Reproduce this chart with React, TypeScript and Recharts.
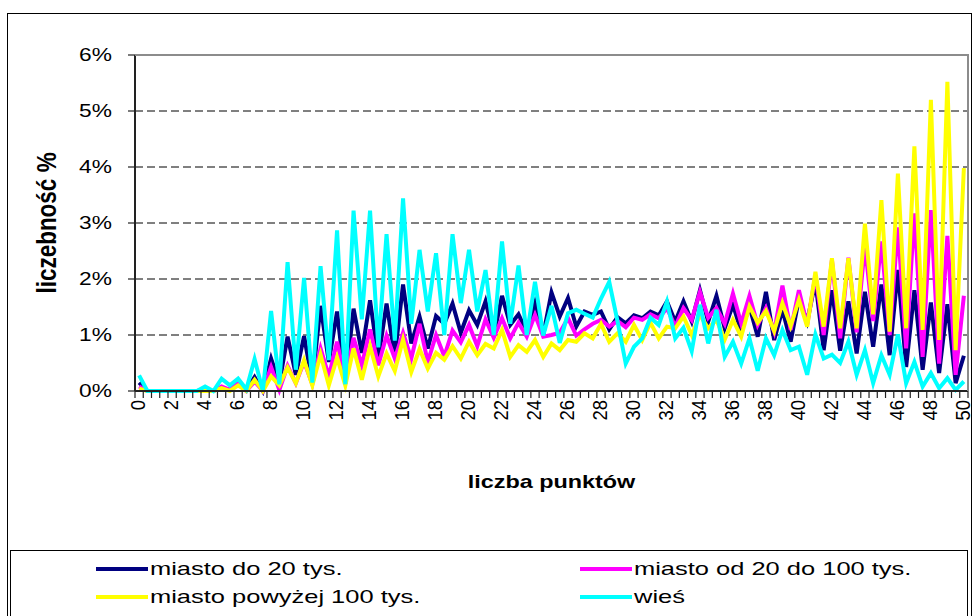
import React from 'react';
import { LineChart, Line, XAxis, YAxis, CartesianGrid, Legend, Label } from 'recharts';

// ---------- data ----------
const xCategories = [
  0, 0.5, 1, 1.5, 2, 2.5, 3, 3.5, 4, 4.5, 5, 5.5, 6, 6.5, 7, 7.5, 8, 8.5, 9, 9.5,
  10, 10.5, 11, 11.5, 12, 12.5, 13, 13.5, 14, 14.5, 15, 15.5, 16, 16.5, 17, 17.5, 18, 18.5, 19, 19.5,
  20, 20.5, 21, 21.5, 22, 22.5, 23, 23.5, 24, 24.5, 25, 25.5, 26, 26.5, 27, 27.5, 28, 28.5, 29, 29.5,
  30, 30.5, 31, 31.5, 32, 32.5, 33, 33.5, 34, 34.5, 35, 35.5, 36, 36.5, 37, 37.5, 38, 38.5, 39, 39.5,
  40, 40.5, 41, 41.5, 42, 42.5, 43, 43.5, 44, 44.5, 45, 45.5, 46, 46.5, 47, 47.5, 48, 48.5, 49, 49.5,
  50,
];

const xTickLabels = [0, 2, 4, 6, 8, 10, 12, 14, 16, 18, 20, 22, 24, 26, 28, 30, 32, 34, 36, 38, 40, 42, 44, 46, 48, 50];
const yTicks = [0, 1, 2, 3, 4, 5, 6];

const miastoDo20 = [
  0.15, 0, 0, 0, 0, 0, 0, 0, 0.02, 0,
  0.06, 0.02, 0.12, 0.02, 0.25, 0, 0.58, 0.14, 0.97, 0.29,
  0.98, 0.16, 1.52, 0.52, 1.42, 0.14, 1.47, 0.68, 1.62, 0.57,
  1.56, 0.62, 1.9, 0.85, 1.33, 0.76, 1.34, 1.2, 1.56, 1.04,
  1.44, 1.18, 1.6, 0.99, 1.7, 1.18, 1.37, 1.05, 1.57, 1.0,
  1.76, 1.33, 1.66, 1.15, 1.42, 1.36, 1.42, 1.1, 1.32, 1.21,
  1.35, 1.3, 1.42, 1.35, 1.6, 1.24, 1.6, 1.24, 1.8, 1.24,
  1.7, 1.12, 1.54, 1.06, 1.51, 0.97, 1.77, 0.91, 1.45, 0.88,
  1.65, 1.24, 1.95, 0.73, 1.8, 0.72, 1.6, 0.67, 1.77, 0.79,
  1.9, 0.64, 2.16, 0.43, 1.8, 0.38, 1.58, 0.32, 1.55, 0.14,
  0.63,
];

const miastoOd20Do100 = [
  0.08, 0, 0, 0, 0, 0, 0, 0, 0, 0,
  0.08, 0.02, 0.15, 0, 0.17, 0, 0.43, 0.02, 0.45, 0.14,
  0.52, 0.12, 0.76, 0.26, 0.88, 0.17, 0.95, 0.46, 1.1, 0.46,
  0.99, 0.58, 1.04, 0.58, 1.2, 0.52, 1.0, 0.62, 1.08, 0.87,
  1.18, 0.8, 1.28, 0.95, 1.3, 0.94, 1.22, 0.97, 1.36, 0.97,
  1.0, 1.04, 1.3, 0.99, 1.1, 1.2, 1.27, 1.15, 1.25, 1.14,
  1.31, 1.27, 1.37, 1.3, 1.48, 1.15, 1.48, 1.27, 1.77, 1.31,
  1.48, 1.2, 1.74, 1.21, 1.7, 1.18, 1.48, 1.06, 1.88, 1.09,
  1.8, 1.18, 2.07, 1.0, 2.34, 0.94, 2.38, 1.05, 2.6, 1.25,
  2.67, 1.0, 2.92, 0.76, 3.17, 0.61, 3.23, 0.49, 2.77, 0.29,
  1.7,
];

const miastoPowyzej100 = [
  0.04, 0, 0, 0, 0, 0, 0, 0, 0, 0,
  0.05, 0, 0.1, 0, 0.2, 0, 0.26, 0.1, 0.42, 0.14,
  0.55, 0.1, 0.65, 0.1, 0.6, 0.1, 0.76, 0.2, 0.8, 0.26,
  0.67, 0.36, 0.92, 0.34, 0.75, 0.4, 0.68, 0.56, 0.8, 0.58,
  0.88, 0.64, 0.84, 0.76, 1.09, 0.61, 0.82, 0.7, 0.91, 0.61,
  0.85, 0.73, 0.91, 0.88, 1.03, 0.94, 1.2, 0.88, 1.03, 0.88,
  1.18, 0.91, 1.22, 0.94, 1.15, 1.12, 1.33, 1.0, 1.36, 1.12,
  1.27, 0.92, 1.27, 0.97, 1.51, 1.22, 1.43, 1.07, 1.57, 1.16,
  1.63, 1.15, 2.13, 1.15, 2.37, 1.12, 2.37, 1.12, 2.99, 1.37,
  3.41, 1.06, 3.88, 1.12, 4.37, 1.09, 5.2, 0.91, 5.52, 0.73,
  3.98,
];

const wies = [
  0.28, 0, 0, 0, 0, 0, 0, 0, 0.08, 0,
  0.22, 0.1, 0.22, 0.03, 0.57, 0, 1.43, 0.12, 2.3, 0.38,
  2.02, 0.15, 2.23, 0.55, 2.87, 0.12, 3.22, 1.28, 3.22, 0.78,
  2.8, 0.9, 3.44, 1.2, 2.52, 1.42, 2.46, 1.0, 2.8, 1.57,
  2.52, 1.42, 2.16, 1.0, 2.67, 1.2, 2.24, 1.0, 1.95, 0.99,
  1.52, 0.86, 1.39, 1.45, 1.38, 1.31, 1.65, 1.95, 1.25, 0.49,
  0.79, 0.94, 1.31, 1.18, 1.6, 0.94, 1.13, 0.71, 1.54, 0.85,
  1.45, 0.61, 0.88, 0.49, 0.94, 0.36, 0.94, 0.64, 1.09, 0.73,
  0.79, 0.29, 1.01, 0.58, 0.65, 0.5, 0.88, 0.29, 0.73, 0.14,
  0.64, 0.29, 1.01, 0.14, 0.52, 0.08, 0.32, 0.05, 0.23, 0.02,
  0.17,
];

const seriesKeys = ['s1', 's2', 's3', 's4'];
const seriesNames = ['miasto do 20 tys.', 'miasto od 20 do 100 tys.', 'miasto powyżej 100 tys.', 'wieś'];
const seriesColors = ['#000080', '#FF00FF', '#FFFF00', '#00FFFF'];
const seriesValues = [miastoDo20, miastoOd20Do100, miastoPowyzej100, wies];

const data = xCategories.map((x, i) => {
  const row: Record<string, number | string> = { x: String(x) };
  seriesKeys.forEach((k, s) => {
    row[k] = seriesValues[s][i];
  });
  return row;
});

const labelSet = new Set(xTickLabels.map(String));

// ---------- styling ----------
const FONT = '"Liberation Sans", Arial, sans-serif';
const STRETCH = 1.3;

const YTick = (props: any) => {
  const { x, y, payload } = props;
  return (
    <text
      transform={`translate(${x},${y}) scale(${STRETCH},1)`}
      textAnchor="end"
      dominantBaseline="central"
      fontFamily={FONT}
      fontSize={17.5}
      fill="#000"
    >
      {`${payload.value}%`}
    </text>
  );
};

const XTick = (props: any) => {
  const { x, y, payload, index, visibleTicksCount } = props;
  const half = typeof payload.offset === 'number' && payload.offset > 0 ? payload.offset : 4.12;
  const isLast = index === (visibleTicksCount ?? xCategories.length) - 1;
  const show = labelSet.has(String(payload.value));
  return (
    <g>
      <line x1={x - half} x2={x - half} y1={y} y2={y + 7} stroke="#222" strokeWidth={1.2} />
      {isLast && <line x1={x + half} x2={x + half} y1={y} y2={y + 7} stroke="#222" strokeWidth={1.2} />}
      {show && (
        <text
          transform={`translate(${x - 1},${y + 9}) rotate(-90) scale(1,1.1)`}
          textAnchor="end"
          dominantBaseline="central"
          fontFamily={FONT}
          fontSize={18.5}
          fill="#000"
        >
          {String(payload.value)}
        </text>
      )}
    </g>
  );
};

const XTitle = (props: any) => {
  const { viewBox } = props;
  const cx = viewBox.x + viewBox.width / 2;
  const cy = viewBox.y + 91;
  return (
    <text
      transform={`translate(${cx},${cy}) scale(${STRETCH},1)`}
      textAnchor="middle"
      dominantBaseline="central"
      fontFamily={FONT}
      fontWeight="bold"
      fontSize={18}
      fill="#000"
    >
      liczba punktów
    </text>
  );
};

const YTitle = (props: any) => {
  const { viewBox } = props;
  const cx = viewBox.x - 28;
  const cy = viewBox.y + viewBox.height / 2;
  return (
    <text
      transform={`translate(${cx},${cy}) rotate(-90) scale(1,1.2)`}
      textAnchor="middle"
      dominantBaseline="central"
      fontFamily={FONT}
      fontWeight="bold"
      fontSize={22.5}
      fill="#000"
    >
      liczebność %
    </text>
  );
};

const LegendBox = (props: any) => {
  const payload = props.payload || [];
  return (
    <div
      style={{
        position: 'relative',
        width: 958,
        height: 68,
        border: '1px solid #000',
        boxSizing: 'border-box',
        background: '#fff',
      }}
    >
      {payload.map((entry: any, k: number) => {
        const col = k % 2;
        const row = Math.floor(k / 2);
        return (
          <div
            key={String(entry.value)}
            style={{
              position: 'absolute',
              left: col ? 569 : 85,
              top: row ? 35 : 7,
              height: 22,
              display: 'flex',
              alignItems: 'center',
              whiteSpace: 'nowrap',
            }}
          >
            <span style={{ display: 'inline-block', width: 52, height: 4, background: entry.color }} />
            <span
              style={{
                display: 'inline-block',
                marginLeft: 2,
                fontFamily: FONT,
                fontSize: 19,
                color: '#000',
                transform: 'scaleX(1.34)',
                transformOrigin: 'left center',
              }}
            >
              {entry.value}
            </span>
          </div>
        );
      })}
    </div>
  );
};

export default function App() {
  return (
    <div style={{ position: 'absolute', left: 0, top: 0, width: 973, height: 616, background: '#fff', overflow: 'hidden' }}>
      <div
        style={{
          position: 'absolute',
          left: 7,
          top: 13,
          width: 965,
          height: 700,
          border: '1px solid #000',
          boxSizing: 'border-box',
        }}
      />
      <LineChart width={973} height={616} data={data} margin={{ top: 55, right: 5, bottom: 195, left: 75 }}>
        <CartesianGrid vertical={false} stroke="#000" strokeDasharray="8 4" />
        <XAxis
          dataKey="x"
          type="category"
          scale="band"
          interval={0}
          tickLine={false}
          tickSize={0}
          tickMargin={0}
          height={30}
          axisLine={{ stroke: '#222', strokeWidth: 2 }}
          tick={<XTick />}
          label={<Label content={XTitle} />}
        />
        <YAxis
          type="number"
          domain={[0, 6]}
          ticks={yTicks}
          interval={0}
          width={60}
          axisLine={{ stroke: '#222', strokeWidth: 2 }}
          tickLine={{ stroke: '#222', strokeWidth: 1.2 }}
          tickSize={7}
          tickMargin={16}
          tick={<YTick />}
          label={<Label content={YTitle} />}
        />
        <Legend
          layout="horizontal"
          verticalAlign="middle"
          align="center"
          width={958}
          height={68}
          wrapperStyle={{ left: 10, top: 550, width: 958, height: 68 }}
          content={<LegendBox />}
        />
        {seriesKeys.map((k, s) => (
          <Line
            key={k}
            dataKey={k}
            name={seriesNames[s]}
            stroke={seriesColors[s]}
            strokeWidth={4}
            dot={false}
            activeDot={false}
            type="linear"
            isAnimationActive={false}
          />
        ))}
      </LineChart>
      <div
        style={{
          position: 'absolute',
          left: 135,
          top: 54,
          width: 834,
          height: 337,
          borderTop: '2px solid #8c8c8c',
          borderRight: '2px solid #8c8c8c',
          boxSizing: 'border-box',
          pointerEvents: 'none',
        }}
      />
    </div>
  );
}
